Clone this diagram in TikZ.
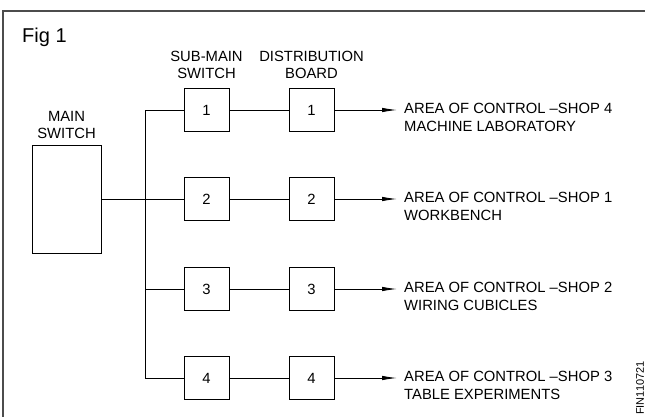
\documentclass[tikz,border=0pt]{standalone}
\usepackage{fontspec}
\setmainfont{Liberation Sans}
\usetikzlibrary{arrows.meta}
\begin{document}
\begin{tikzpicture}[x=1pt,y=-1pt,
  every node/.style={font=\fontsize{14.8}{16.5}\selectfont},
  box/.style={draw, line width=0.9pt, minimum width=45pt, minimum height=43pt, inner sep=0pt},
  wire/.style={line width=0.9pt},
  feed/.style={line width=0.9pt, -{Latex[length=15pt,width=4.5pt]}},
  lbl/.style={anchor=base west, inner sep=0pt}]
\useasboundingbox (0,0) rectangle (645,417);
% frame
\draw[line width=1.4pt, black!70] (3,417) -- (3,11) -- (645,11);
\node[anchor=north west, inner sep=0pt, font=\fontsize{20}{22}\selectfont] (fig) at (22,28) {Fig 1};
% headers
\node[align=center] (hmain) at (66.5,125) {MAIN\\SWITCH};
\node[align=center] (hsub) at (206.5,65) {SUB-MAIN\\SWITCH};
\node[align=center] (hdist) at (311.5,65) {DISTRIBUTION\\BOARD};
% main switch
\node[draw, line width=0.9pt, minimum width=69pt, minimum height=108pt] (ms) at (66.5,199) {};
\foreach \i/\y in {1/110,2/199,3/289,4/378}{
  \node[box] (s\i) at (206.5,\y) {\i};
  \node[box] (d\i) at (311.5,\y) {\i};
  \coordinate (b\i) at (145,\y);
  \coordinate (e\i) at (397,\y);
  \draw[wire] (s\i) -- (d\i);
  \draw[feed] (d\i) -- (e\i);
}
\draw[wire] (s1.west) -- (b1) -- (b4) -- (s4.west);
\draw[wire] (ms.east) -- (s2.west);
\draw[wire] (b3) -- (s3.west);
% labels
\node[lbl] (l1a) at (404,113.5) {AREA OF CONTROL –SHOP 4};
\node[lbl] (l1b) at (404,131.5) {MACHINE LABORATORY};
\node[lbl] (l2a) at (404,202.5) {AREA OF CONTROL –SHOP 1};
\node[lbl] (l2b) at (404,220.5) {WORKBENCH};
\node[lbl] (l3a) at (404,292.5) {AREA OF CONTROL –SHOP 2};
\node[lbl] (l3b) at (404,310.5) {WIRING CUBICLES};
\node[lbl] (l4a) at (404,381.5) {AREA OF CONTROL –SHOP 3};
\node[lbl] (l4b) at (404,399.5) {TABLE EXPERIMENTS};
\node[rotate=90, inner sep=0pt, font=\fontsize{11}{12}\selectfont] (fin) at (640,388) {FIN110721};
\end{tikzpicture}
\end{document}
